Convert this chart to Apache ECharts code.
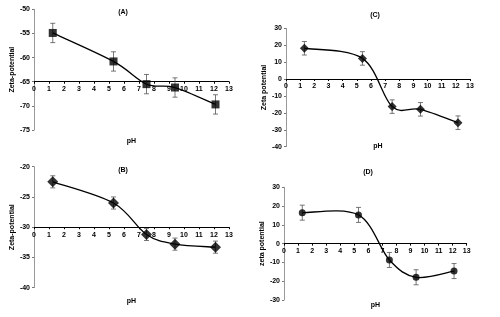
<!DOCTYPE html>
<html>
<head>
<meta charset="utf-8">
<script src="https://cdn.jsdelivr.net/npm/echarts@6/dist/echarts.min.js"></script>
<style>
  html, body { margin: 0; padding: 0; background: #fff; }
  #chart { width: 500px; height: 317px; }
</style>
</head>
<body>
<div id="chart"></div>
<script>
// pH values for each panel
const phA = [1.25, 5.3, 7.5, 9.4, 12.1]
const phB = [1.25, 5.3, 7.5, 9.4, 12.1]
const phC = [1.3, 5.4, 7.5, 9.5, 12.15]
const phD = [1.3, 5.3, 7.5, 9.4, 12.1]

// zeta potential (mV) and error half-widths
const zetaA = [-54.9, -60.8, -65.5, -66.2, -69.7]
const errA = [2, 2, 2, 2, 2]
const zetaB = [-22.5, -26.0, -31.2, -32.8, -33.3]
const errB = [1, 1, 1, 1, 1]
const zetaC = [18.2, 12.2, -16.3, -17.9, -25.8]
const errC = [4, 4, 4, 4, 4]
const zetaD = [16.5, 15.3, -8.7, -17.9, -14.6]
const errD = [4, 4, 4, 4, 4]

const font = 'Liberation Sans, Arial, sans-serif'
const labelStyle = { color: '#000', fontSize: 7, fontWeight: 'bold', fontFamily: font }

// panel layout: grid box, y range, where the x axis crosses
const panels = [
  { key: 'A', x: phA, y: zetaA, err: errA, grid: { left: 34, top: 9.3, width: 195, height: 120.7 },
    yMin: -75, yMax: -50, yInt: 5, cross: -65, yName: 'Zeta-potential', symbol: 'rect', size: 8,
    title: [123, 9], nameGap: 56, yGap: 16 },
  { key: 'B', x: phB, y: zetaB, err: errB, grid: { left: 34, top: 166.7, width: 195, height: 121 },
    yMin: -40, yMax: -20, yInt: 5, cross: -30, yName: 'Zeta-potential', symbol: 'diamond', size: 11,
    title: [123, 166.5], nameGap: 70, yGap: 16 },
  { key: 'C', x: phC, y: zetaC, err: errC, grid: { left: 286, top: 28.3, width: 184, height: 118.4 },
    yMin: -40, yMax: 30, yInt: 10, cross: 0, yName: 'Zeta potential', symbol: 'diamond', size: 9,
    title: [375, 11.5], nameGap: 64, yGap: 16 },
  { key: 'D', x: phD, y: zetaD, err: errD, grid: { left: 284, top: 187.3, width: 182.7, height: 112.7 },
    yMin: -30, yMax: 30, yInt: 10, cross: 0, yName: 'zeta potential', symbol: 'circle', size: 7,
    title: [368, 169], nameGap: 58, yGap: 15 }
]

const option = {
  animation: false,
  title: [],
  grid: [],
  xAxis: [],
  yAxis: [],
  series: []
}

panels.forEach((p, i) => {
  option.title.push({
    text: '(' + p.key + ')',
    left: p.title[0], top: p.title[1],
    textAlign: 'center',
    padding: 0,
    textStyle: labelStyle
  })
  option.grid.push(p.grid)

  // x axis sits where y equals p.cross
  const frac = (p.cross - p.yMin) / (p.yMax - p.yMin)
  option.xAxis.push({
    gridIndex: i,
    type: 'value',
    min: 0, max: 13, interval: 1,
    position: 'bottom',
    offset: -p.grid.height * frac,
    name: 'pH',
    nameLocation: 'middle',
    nameGap: p.nameGap,
    nameTextStyle: labelStyle,
    axisLine: { onZero: false, lineStyle: { color: '#000', width: 1 } },
    axisTick: { show: true, length: 2, lineStyle: { color: '#000' } },
    axisLabel: { ...labelStyle, margin: 4 },
    splitLine: { show: false }
  })
  option.yAxis.push({
    gridIndex: i,
    type: 'value',
    min: p.yMin, max: p.yMax, interval: p.yInt,
    name: p.yName,
    nameLocation: 'middle',
    nameGap: p.yGap,
    nameTextStyle: labelStyle,
    axisLine: { show: true, lineStyle: { color: '#999', width: 1 } },
    axisTick: { show: true, length: 2, lineStyle: { color: '#777' } },
    axisLabel: { ...labelStyle, margin: 4 },
    splitLine: { show: false }
  })

  // smoothed curve (Catmull-Rom style, like the spreadsheet's smoothed line)
  option.series.push({
    type: 'custom',
    xAxisIndex: i, yAxisIndex: i,
    data: p.x.map((v, k) => [v, p.y[k]]),
    renderItem: (params, api) => {
      const k = params.dataIndex
      const n = p.x.length
      if (k >= n - 1) return null
      const pt = (j) => api.coord([p.x[Math.max(0, Math.min(n - 1, j))], p.y[Math.max(0, Math.min(n - 1, j))]])
      const p0 = pt(k - 1), p1 = pt(k), p2 = pt(k + 1), p3 = pt(k + 2)
      const t = 1 / 6
      const c1 = [p1[0] + (p2[0] - p0[0]) * t, p1[1] + (p2[1] - p0[1]) * t]
      const c2 = [p2[0] - (p3[0] - p1[0]) * t, p2[1] - (p3[1] - p1[1]) * t]
      return {
        type: 'bezierCurve',
        shape: { x1: p1[0], y1: p1[1], cpx1: c1[0], cpy1: c1[1], cpx2: c2[0], cpy2: c2[1], x2: p2[0], y2: p2[1] },
        style: { stroke: '#000', lineWidth: 1.3, fill: null }
      }
    },
    z: 2
  })

  // markers
  option.series.push({
    type: 'scatter',
    xAxisIndex: i, yAxisIndex: i,
    data: p.x.map((v, k) => [v, p.y[k]]),
    symbol: p.symbol,
    symbolSize: p.size,
    itemStyle: { color: '#000' },
    z: 4
  })

  // error bars
  option.series.push({
    type: 'custom',
    xAxisIndex: i, yAxisIndex: i,
    data: p.x.map((v, k) => [v, p.y[k] - p.err[k], p.y[k] + p.err[k]]),
    renderItem: (params, api) => {
      const lo = api.coord([api.value(0), api.value(1)])
      const hi = api.coord([api.value(0), api.value(2)])
      const w = 2.5
      const st = { stroke: '#555', lineWidth: 0.8 }
      return {
        type: 'group',
        children: [
          { type: 'line', shape: { x1: lo[0], y1: lo[1], x2: hi[0], y2: hi[1] }, style: st },
          { type: 'line', shape: { x1: lo[0] - w, y1: lo[1], x2: lo[0] + w, y2: lo[1] }, style: st },
          { type: 'line', shape: { x1: hi[0] - w, y1: hi[1], x2: hi[0] + w, y2: hi[1] }, style: st }
        ]
      }
    },
    z: 3
  })
})

const chart = echarts.init(document.getElementById('chart'))
chart.setOption(option)
</script>
</body>
</html>
